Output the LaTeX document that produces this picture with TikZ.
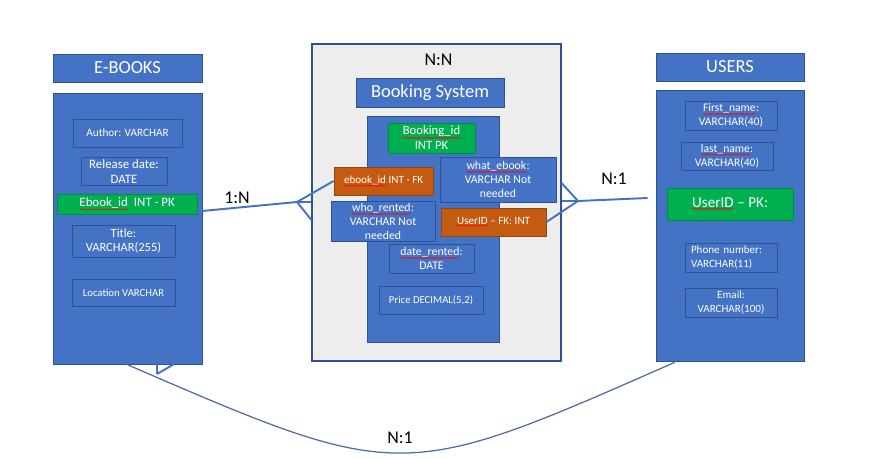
\documentclass[tikz,border=0pt]{standalone}
\usepackage{fontspec}
\setmainfont{Carlito}
\usepackage{tikz}
\usetikzlibrary{calc,decorations.pathmorphing}

\definecolor{officeblue}{HTML}{4472C4}
\definecolor{darkblue}{HTML}{2F528F}
\definecolor{pkgreen}{HTML}{00B050}
\definecolor{fkorange}{HTML}{C55A11}
\definecolor{panelgray}{HTML}{EDEDED}
\definecolor{curveblue}{HTML}{4E6B9F}

\newdimen\px \px=0.02cm
% red spell-check wave under a word
\newcommand{\spell}[1]{\tikz[baseline = (w.base), x = 1pt, y = 1pt]{%
  \node[inner sep = 0pt, outer sep = 0pt, minimum width = 0pt, minimum height = 0pt,
        draw = none, fill = none] (w) {#1};
  \draw[red, line width = 0.3pt, decorate, decoration = {snake, amplitude = 0.35pt, segment length = 1.6pt}]
    ([yshift = -0.5pt]w.south west) -- ([yshift = -0.5pt]w.south east);}}

\tikzset{
  entity/.style = {draw = darkblue, fill = officeblue, text = white, inner sep = 0pt,
                   font = \fontsize{10.5}{12.6}\selectfont},
  attr/.style   = {draw = darkblue, fill = officeblue, text = white, align = center,
                   inner sep = 1pt, line width = 0.5pt, font = \fontsize{6.4}{8}\selectfont},
  pk/.style     = {attr, draw = pkgreen!80!black, fill = pkgreen},
  fk/.style     = {attr, draw = fkorange!75!black, fill = fkorange},
  card/.style   = {font = \fontsize{10.2}{12}\selectfont},
  rel/.style    = {draw = officeblue, line width = 1.1pt},
}

\begin{document}
\begin{tikzpicture}[x = 0.02cm, y = -0.02cm]
\useasboundingbox[fill = white] (0,0) rectangle (875,459);

% E-BOOKS table
\node[entity, minimum width = 149\px, minimum height = 28\px] (ebookshead) at (127.5,68) {E-BOOKS};
\node[entity, minimum width = 149\px, minimum height = 271\px] (ebooksbody) at (127.5,228.5) {};
\node[attr, minimum width = 109\px, minimum height = 28\px] (author) at (127.5,133) {Author: VARCHAR};
\node[attr, minimum width = 86\px, minimum height = 27\px, font = \fontsize{7.3}{8.6}\selectfont] (release) at (124,171.5) {Release date:\\DATE};
\node[pk, minimum width = 140\px, minimum height = 20\px, font = \fontsize{7.3}{8.6}\selectfont] (ebookid) at (127,204) {\spell{Ebook\_id}\ \ INT - PK};
\node[attr, minimum width = 103\px, minimum height = 32\px, font = \fontsize{7.1}{8.2}\selectfont] (title) at (123.5,241) {Title:\\VARCHAR(255)};
\node[attr, minimum width = 103\px, minimum height = 27\px, font = \fontsize{6.1}{7.4}\selectfont] (location) at (123.5,292.5) {Location VARCHAR};

% booking system (join table)
\node[draw = darkblue, fill = panelgray, line width = 0.6pt, minimum width = 249\px, minimum height = 317\px] (booking) at (436.5,202.5) {};
\node[card] (nn) at (438.5,59.5) {N:N};
\node[entity, minimum width = 148\px, minimum height = 29\px] (bookhead) at (430,92.5) {Booking System};
\node[entity, minimum width = 132\px, minimum height = 226\px] (bookbody) at (433,229) {};
\node[pk, minimum width = 87\px, minimum height = 30\px, font = \fontsize{7.2}{8.6}\selectfont] (bookid) at (431.5,138) {\spell{Booking\_id}\\INT PK};
\node[attr, minimum width = 116\px, minimum height = 45\px, font = \fontsize{6.7}{8}\selectfont] (whatebook) at (498,179.5) {\spell{what\_ebook}:\\VARCHAR Not\\needed};
\node[fk, minimum width = 99\px, minimum height = 28\px, font = \fontsize{6.3}{7.6}\selectfont] (ebookfk) at (383.5,181) {\spell{ebook\_id} INT - FK};
\node[attr, minimum width = 104\px, minimum height = 39\px, font = \fontsize{6.7}{8}\selectfont] (whorented) at (383,221.5) {\spell{who\_rented}:\\VARCHAR Not\\needed};
\node[fk, minimum width = 105\px, minimum height = 28\px, font = \fontsize{6.3}{7.6}\selectfont] (userfk) at (493.5,222) {\spell{UserID} -- FK: INT};
\node[attr, minimum width = 85\px, minimum height = 29\px, font = \fontsize{6.7}{8}\selectfont] (daterented) at (431.5,258.5) {\spell{date\_rented}:\\DATE};
\node[attr, minimum width = 104\px, minimum height = 28\px, font = \fontsize{6.1}{7.4}\selectfont] (price) at (431,300) {Price DECIMAL(5,2)};

% USERS table
\node[entity, minimum width = 148\px, minimum height = 28\px] (usershead) at (730,67) {USERS};
\node[entity, minimum width = 148\px, minimum height = 271\px] (usersbody) at (730,225.5) {};
\node[attr, minimum width = 92\px, minimum height = 29\px, font = \fontsize{6.6}{8}\selectfont] (firstname) at (731,115.5) {\spell{First\_name}:\\VARCHAR(40)};
\node[attr, minimum width = 92\px, minimum height = 28\px, font = \fontsize{6.6}{8}\selectfont] (lastname) at (727,156) {\spell{last\_name}:\\VARCHAR(40)};
\node[pk, minimum width = 126\px, minimum height = 32\px, font = \fontsize{8.6}{10}\selectfont] (userid) at (730,204) {\spell{UserID} -- PK:};
\node[attr, minimum width = 92\px, minimum height = 29\px, align = left, text width = 80\px, font = \fontsize{6.3}{7.8}\selectfont] (phone) at (731,257.5) {Phone number:\\VARCHAR(11)};
\node[attr, minimum width = 92\px, minimum height = 29\px, font = \fontsize{6.3}{7.8}\selectfont] (email) at (731,302.5) {Email:\\VARCHAR(100)};

% E-BOOKS to booking system
\coordinate (lfoot) at (297,202);
\draw[rel] ($(ebookid.south east)+(0,-3)$) -- (lfoot);
\draw[rel] (lfoot) -- (ebookfk.west);
\draw[rel] (lfoot) -- (lfoot -| booking.west);
\draw[rel] (lfoot) -- ($(lfoot -| booking.west)+(0,18)$);
\node[card] (onen) at (237,198) {1:N};

% USERS to booking system
\coordinate (rfoot) at (578,201);
\draw[rel] ($(usersbody.west)+(-8,-27.5)$) -- (rfoot);
\draw[rel] (rfoot) -- ($(rfoot -| booking.east)+(0,-18)$);
\draw[rel] (rfoot) -- (rfoot -| booking.east);
\draw[rel] (rfoot) -- (userfk.east);
\node[card] (nonetop) at (614,179) {N:1};

% E-BOOKS to USERS
\coordinate (bfoot) at (157,374);
\draw[curveblue, line width = 0.7pt] ($(ebooksbody.south west)+(74,0)$) .. controls (401,483) .. ($(usersbody.south west)+(19,1)$);
\draw[rel] (bfoot) -- (bfoot |- ebooksbody.south);
\draw[rel] (bfoot) -- ($(ebooksbody.south west)+(121,0)$);
\node[card] (nonebottom) at (400,437.5) {N:1};
\end{tikzpicture}
\end{document}
